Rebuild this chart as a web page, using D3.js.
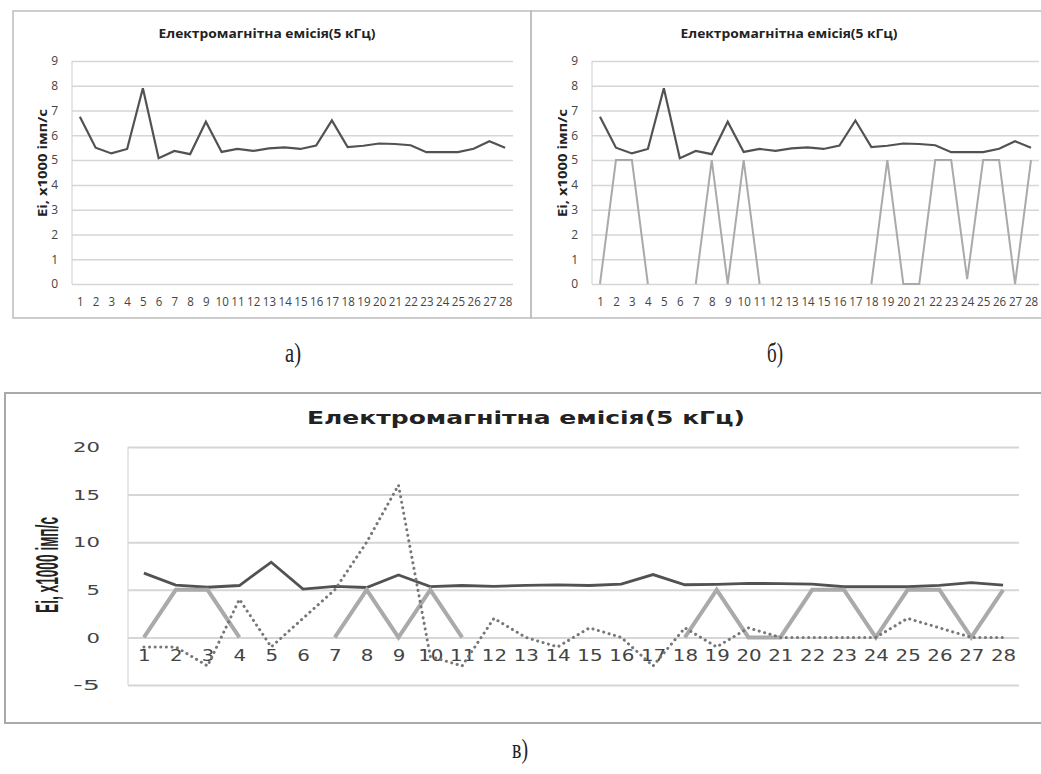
<!DOCTYPE html>
<html>
<head>
<meta charset="utf-8">
<script src="https://cdn.jsdelivr.net/npm/d3@7"></script>
<style>
  html, body { margin: 0; padding: 0; background: #fff; }
  svg { display: block; }
</style>
</head>
<body>
<svg id="chart" width="1041" height="774"></svg>
<script>
// ---- data ----
const categories = ["1","2","3","4","5","6","7","8","9","10","11","12","13","14",
  "15","16","17","18","19","20","21","22","23","24","25","26","27","28"];
const emission = [6.75, 5.5, 5.27, 5.45, 7.9, 5.08, 5.37, 5.24, 6.55, 5.33, 5.45, 5.37, 5.47, 5.51,
  5.45, 5.59, 6.6, 5.53, 5.58, 5.67, 5.65, 5.6, 5.32, 5.32, 5.32, 5.46, 5.76, 5.5];
const pulsesB = [0, 5, 5, 0, null, null, 0, 5, 0, 5, 0, null, null, null,
  null, null, null, 0, 5, 0, 0, 5, 5, 0.2, 5, 5, 0, 5];
const pulsesC = [0, 5, 5, 0, null, null, 0, 5, 0, 5, 0, null, null, null,
  null, null, null, 0, 5, 0, 0, 5, 5, 0, 5, 5, 0, 5];
const deviation = [-1, -1, -3, 4, -1, 2, 5, 10, 16, -2, -3, 2, 0, -1,
  1, 0, -3, 1, -1, 1, 0, 0, 0, 0, 2, 1, 0, 0];
const ticksAB = [0, 1, 2, 3, 4, 5, 6, 7, 8, 9];
const ticksC = [-5, 0, 5, 10, 15, 20];
const chartTitle = "Електромагнітна емісія(5 кГц)";
const yTitle = "Ei, x1000 імп/с";
const panelLabels = ["а)", "б)", "в)"];

// ---- drawing ----
const svg = d3.select("#chart");
const GRID = "#d6d6d6", DARK = "#525252", LIGHT = "#aaaaaa", DOT = "#777777";

function panel(cfg) {
  const g = svg.append("g");
  g.append("rect").attr("x", cfg.box[0]).attr("y", cfg.box[1])
    .attr("width", cfg.box[2] - cfg.box[0]).attr("height", cfg.box[3] - cfg.box[1])
    .attr("fill", "none").attr("stroke", cfg.boxColor).attr("stroke-width", cfg.boxWidth);

  const x = d3.scalePoint().domain(categories).range([cfg.left, cfg.right]).padding(0.5);
  const y = d3.scaleLinear().domain(cfg.domain).range([cfg.bottom, cfg.top]);

  // grid
  g.append("g").attr("transform", `translate(${cfg.left},0)`)
    .call(d3.axisLeft(y).tickValues(cfg.ticks).tickSize(-(cfg.right - cfg.left)).tickFormat(""))
    .call(s => s.select(".domain").remove())
    .call(s => s.selectAll("line").attr("stroke", GRID).attr("stroke-width", cfg.gridWidth));
  g.append("line").attr("x1", cfg.left).attr("x2", cfg.left)
    .attr("y1", y(cfg.domain[1])).attr("y2", y(cfg.domain[0]))
    .attr("stroke", GRID).attr("stroke-width", 1.2);

  // y tick labels
  g.append("g").attr("transform", `translate(${cfg.left},0)`)
    .call(d3.axisLeft(y).tickValues(cfg.ticks).tickSize(0).tickPadding(cfg.yPad)
      .tickFormat(d => String(d)))
    .call(s => s.select(".domain").remove())
    .call(s => s.selectAll("text").attr("font-family", cfg.tickFont)
      .attr("font-size", cfg.yFontSize).attr("fill", "#444")
      .each(function(d) {
        if (cfg.yCharW) d3.select(this).attr("textLength", String(d).length * cfg.yCharW)
          .attr("lengthAdjust", "spacingAndGlyphs");
      }));

  // x tick labels
  g.append("g").attr("transform", `translate(0,${y(cfg.xAt)})`)
    .call(d3.axisBottom(x).tickSize(0).tickPadding(cfg.xPad))
    .call(s => s.select(".domain").remove())
    .call(s => s.selectAll("text").attr("font-family", cfg.tickFont)
      .attr("font-size", cfg.xFontSize).attr("fill", "#444")
      .each(function(d) {
        if (cfg.xCharW) d3.select(this).attr("textLength", String(d).length * cfg.xCharW)
          .attr("lengthAdjust", "spacingAndGlyphs");
      }));

  // title
  g.append("text").attr("x", cfg.titlePos[0]).attr("y", cfg.titlePos[1])
    .attr("text-anchor", "middle").attr("dominant-baseline", "central")
    .attr("font-family", cfg.titleFont).attr("font-weight", "bold")
    .attr("font-size", cfg.titleSize).attr("fill", "#222")
    .attr("textLength", cfg.titleLen).attr("lengthAdjust", "spacingAndGlyphs")
    .text(chartTitle);

  // y axis title
  g.append("text")
    .attr("transform", `translate(${cfg.yTitlePos[0]},${cfg.yTitlePos[1]}) rotate(-90)`)
    .attr("text-anchor", "middle").attr("dominant-baseline", "central")
    .attr("font-family", cfg.yTitleFont).attr("font-weight", "bold")
    .attr("font-size", cfg.yTitleSize).attr("fill", "#222")
    .attr("textLength", cfg.yTitleLen).attr("lengthAdjust", "spacingAndGlyphs")
    .text(yTitle);

  const line = d3.line().defined(d => d != null)
    .x((d, i) => x(categories[i])).y(d => y(d));

  cfg.series.forEach(s => {
    const p = g.append("path").datum(s.values)
      .attr("fill", "none").attr("stroke", s.color).attr("stroke-width", s.width)
      .attr("stroke-linejoin", "miter").attr("d", line);
    if (s.dash) p.attr("stroke-dasharray", s.dash).attr("stroke-linecap", "round");
  });
}

panel({
  box: [13, 11, 531, 318], boxColor: "#bdbdbd", boxWidth: 1.5,
  left: 72, right: 513, top: 61, bottom: 284, domain: [0, 9], ticks: ticksAB,
  gridWidth: 1.5, xAt: 0, xPad: 13, yPad: 14,
  tickFont: "'Open Sans', sans-serif", xFontSize: 12, yFontSize: 12, xCharW: 6.6,
  titlePos: [267, 33], titleFont: "'Open Sans', sans-serif", titleSize: 12.5, titleLen: 217,
  yTitlePos: [42, 163], yTitleFont: "'Open Sans', sans-serif", yTitleSize: 11.5, yTitleLen: 108,
  series: [{ values: emission, color: DARK, width: 2.2 }]
});

panel({
  box: [531, 11, 1046, 318], boxColor: "#bdbdbd", boxWidth: 1.5,
  left: 592, right: 1039, top: 61, bottom: 284, domain: [0, 9], ticks: ticksAB,
  gridWidth: 1.5, xAt: 0, xPad: 13, yPad: 14,
  tickFont: "'Open Sans', sans-serif", xFontSize: 12, yFontSize: 12, xCharW: 6.6,
  titlePos: [789, 33], titleFont: "'Open Sans', sans-serif", titleSize: 12.5, titleLen: 217,
  yTitlePos: [562, 163], yTitleFont: "'Open Sans', sans-serif", yTitleSize: 11.5, yTitleLen: 108,
  series: [{ values: emission, color: DARK, width: 2.2 },
           { values: pulsesB, color: LIGHT, width: 2 }]
});

panel({
  box: [5, 393, 1046, 723], boxColor: "#a9a9a9", boxWidth: 2,
  left: 128, right: 1019, top: 447, bottom: 685, domain: [-5, 20], ticks: ticksC,
  gridWidth: 2, xAt: 0, xPad: 12, yPad: 28,
  tickFont: "'DejaVu Sans', sans-serif", xFontSize: 16.5, yFontSize: 14.5, xCharW: 12.6, yCharW: 13.5,
  titlePos: [526, 417], titleFont: "'DejaVu Sans', sans-serif", titleSize: 18, titleLen: 438,
  yTitlePos: [47, 565], yTitleFont: "'Liberation Sans Narrow', 'Liberation Sans', sans-serif", yTitleSize: 31, yTitleLen: 96,
  series: [{ values: emission, color: DARK, width: 2.8 },
           { values: pulsesC, color: LIGHT, width: 4 },
           { values: deviation, color: DOT, width: 3, dash: "0.1 5.5" }]
});

// panel captions
const capPos = [[293, 352], [775, 352], [520, 748]];
panelLabels.forEach((t, i) => {
  svg.append("text").attr("x", capPos[i][0]).attr("y", capPos[i][1])
    .attr("text-anchor", "middle").attr("dominant-baseline", "central")
    .attr("font-family", "'Liberation Serif', serif").attr("font-size", 28)
    .attr("fill", "#222").attr("textLength", 16).attr("lengthAdjust", "spacingAndGlyphs")
    .text(t);
});
</script>
</body>
</html>
